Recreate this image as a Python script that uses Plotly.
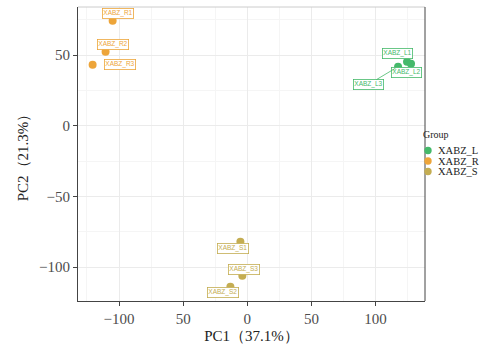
import plotly.graph_objects as go

groups = ["XABZ_L", "XABZ_R", "XABZ_S"]
colors = {"XABZ_L": "#45B96A", "XABZ_R": "#EDA53A", "XABZ_S": "#C4AD52"}

samples = ["XABZ_R1", "XABZ_R2", "XABZ_R3", "XABZ_L1", "XABZ_L2", "XABZ_L3", "XABZ_S1", "XABZ_S3", "XABZ_S2"]
sample_group = ["XABZ_R", "XABZ_R", "XABZ_R", "XABZ_L", "XABZ_L", "XABZ_L", "XABZ_S", "XABZ_S", "XABZ_S"]
pc1 = [-105.0, -110.5, -120.6, 124.5, 127.6, 117.5, -5.4, -3.9, -13.2]
pc2 = [74.3, 52.3, 43.2, 45.3, 43.9, 41.8, -82.1, -106.2, -114.0]

# label offsets (pixels) from point, repel-like placement
label_dx = [5, 7, 27, -10, -5, -30, -7, 2, -7]
label_dy = [-7, -7, 0, -8, 9, 18, 7, -6, 6]
label_segment = [False, False, False, False, False, True, False, False, False]

x_tickvals = [-100, -50, 0, 50, 100]
x_ticktext = ["\u2212100", "50", "0", "50", "100"]
y_tickvals = [-100, -50, 0, 50]
y_ticktext = ["\u2212100", "\u221250", "0", "50"]

serif = "Liberation Serif, DejaVu Serif, serif"

W, H = 503, 347
ML, MR, MT, MB = 78, 78, 7, 46
PW, PH = W - ML - MR, H - MT - MB

def px_to_paper(px, py):
    return (px - ML) / PW, (H - MB - py) / PH

fig = go.Figure()
for g in groups:
    xs = [x for x, sg in zip(pc1, sample_group) if sg == g]
    ys = [y for y, sg in zip(pc2, sample_group) if sg == g]
    fig.add_trace(go.Scatter(x=xs, y=ys, mode="markers", name=g, showlegend=False,
                             marker=dict(size=8, color=colors[g], line=dict(width=0))))

for s, g, x, y, dx, dy, seg in zip(samples, sample_group, pc1, pc2, label_dx, label_dy, label_segment):
    c = colors[g]
    fig.add_annotation(x=x, y=y, xref="x", yref="y", text=s, showarrow=True,
                       ax=dx, ay=dy, arrowhead=0, arrowwidth=0.8,
                       arrowcolor=c if seg else "rgba(0,0,0,0)",
                       font=dict(size=6.5, color=c, family="Liberation Sans, Arial, sans-serif"),
                       bgcolor="white", bordercolor=c, borderwidth=0.8, borderpad=0.5,
                       standoff=3)

# panel border lines
fig.add_shape(type="line", xref="paper", yref="paper", x0=0, x1=1, y0=1, y1=1,
              line=dict(color="#CCCCCC", width=1))
fig.add_shape(type="line", xref="paper", yref="paper", x0=1, x1=1, y0=0, y1=1,
              line=dict(color="#444444", width=1))

# manual legend
tx, ty = px_to_paper(421, 134)
fig.add_annotation(x=tx, y=ty, xref="paper", yref="paper", text="Group", showarrow=False,
                   xanchor="left", yanchor="middle",
                   font=dict(size=10, family=serif, color="#222"))
for i, g in enumerate(groups):
    cy = 150.5 + i * 10.5
    cxp, cyp = px_to_paper(428, cy)
    fig.add_shape(type="circle", xref="paper", yref="paper", xsizemode="pixel", ysizemode="pixel",
                  xanchor=cxp, yanchor=cyp, x0=-3.7, x1=3.7, y0=-3.7, y1=3.7,
                  fillcolor=colors[g], line=dict(width=0))
    lx, ly = px_to_paper(436, cy)
    fig.add_annotation(x=lx, y=ly, xref="paper", yref="paper", text=g, showarrow=False,
                       xanchor="left", yanchor="middle",
                       font=dict(size=10.5, family=serif, color="#222"))

fig.update_layout(
    width=W, height=H,
    margin=dict(l=ML, r=MR, t=MT, b=MB, autoexpand=False),
    paper_bgcolor="white", plot_bgcolor="white",
    font=dict(family=serif, color="#333333"),
    showlegend=False,
    xaxis=dict(range=[-132, 138.5], tickvals=x_tickvals, ticktext=x_ticktext,
               showgrid=True, gridcolor="#EBEBEB", gridwidth=1,
               minor=dict(showgrid=True, gridcolor="#F5F5F5", gridwidth=0.6, tick0=-125, dtick=50),
               zeroline=False, showline=True, linecolor="#444444", linewidth=1,
               ticks="outside", ticklen=4, tickcolor="#444444",
               tickfont=dict(size=15, family=serif, color="#4D4D4D"),
               title=dict(text="PC1（37.1%）", font=dict(size=15, family=serif, color="#222"), standoff=4)),
    yaxis=dict(range=[-124, 84], tickvals=y_tickvals, ticktext=y_ticktext,
               showgrid=True, gridcolor="#EBEBEB", gridwidth=1,
               minor=dict(showgrid=True, gridcolor="#F5F5F5", gridwidth=0.6, tick0=-125, dtick=50),
               zeroline=False, showline=True, linecolor="#444444", linewidth=1,
               ticks="outside", ticklen=4, tickcolor="#444444",
               tickfont=dict(size=15, family=serif, color="#4D4D4D"),
               title=dict(text="PC2（21.3%）", font=dict(size=15, family=serif, color="#222"), standoff=6)),
)

fig.write_html("out.html", config={"displayModeBar": False},
               post_script="document.body.style.margin='0';document.body.style.overflow='hidden';")
